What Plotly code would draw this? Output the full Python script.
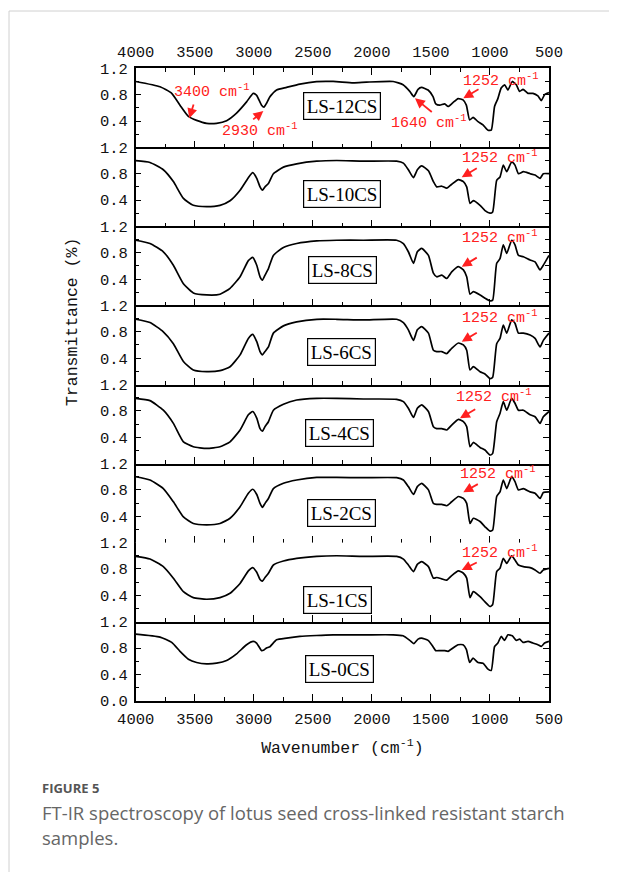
import plotly.graph_objects as go

# page is 617x872; the html body adds an 8px margin, so the figure is 609x864
OFF = 8
W, H = 617 - OFF, 872 - OFF

# ---------------- data ----------------
WN_A = [4000, 3794, 3695, 3625, 3554, 3484, 3399, 3315, 3230, 3146,
        3061, 3005, 2976, 2934, 2914, 2892, 2863, 2807, 2722, 2610,
        2469, 2328, 2158, 2046, 1820, 1736, 1679, 1645, 1609, 1580,
        1524, 1482, 1459, 1425, 1383, 1355, 1313, 1270, 1228, 1200,
        1172, 1143, 1101, 1059, 1017, 989, 961, 933, 905, 876,
        848, 811, 777, 749, 720, 678, 636, 594, 565, 537, 500]

WN_B = [4000, 3879, 3766, 3681, 3596, 3512, 3399, 3286, 3201, 3116,
        3046, 3009, 2975, 2947, 2927, 2905, 2876, 2834, 2749, 2637,
        2467, 2298, 2072, 1790, 1733, 1691, 1648, 1615, 1578, 1521,
        1479, 1451, 1408, 1366, 1324, 1267, 1225, 1197, 1169, 1141,
        1084, 1042, 1000, 977, 943, 915, 887, 858, 816, 788,
        759, 717, 660, 618, 576, 548, 500]

LS_12CS = [1.0, .92, .82, .64, .47, .41, .365, .365, .405, .52,
           .69, .82, .79, .64, .61, .67, .77, .87, .91, .96,
           .997, 1.0, .98, .99, 1.0, .95, .85, .77, .88, .91,
           .87, .77, .66, .64, .66, .62, .68, .74, .72, .64,
           .415, .455, .39, .34, .26, .26, .62, .74, .90, .95,
           .87, 1.0, .95, .85, .88, .82, .82, .78, .71, .80, .83]

LS_10CS = [.997, .97, .86, .68, .425, .32, .30, .32, .39, .55,
           .74, .815, .73, .60, .55, .60, .65, .80, .90, .95,
           .99, 1.0, .99, .99, .96, .86, .74, .86, .92, .845,
           .68, .60, .61, .58, .64, .71, .68, .60, .35, .39,
           .32, .24, .20, .22, .70, .75, .93, .83, .98, .93,
           .80, .83, .80, .78, .73, .80, .80]

LS_8CS = [.99, .94, .815, .61, .33, .19, .16, .17, .26, .435,
          .68, .73, .61, .435, .385, .46, .56, .76, .88, .94,
          .98, .99, .99, .99, .94, .815, .64, .815, .865, .76,
          .49, .435, .46, .41, .51, .59, .54, .435, .17, .21,
          .16, .11, .07, .08, .64, .71, .92, .79, .99, .92,
          .76, .74, .69, .66, .54, .61, .76]

LS_6CS = [.99, .94, .80, .62, .35, .22, .195, .21, .27, .45,
          .70, .76, .65, .50, .45, .50, .57, .78, .89, .95,
          .99, .99, .98, .99, .94, .83, .67, .83, .88, .78,
          .52, .50, .50, .47, .55, .63, .60, .52, .22, .27,
          .195, .16, .09, .11, .62, .70, .90, .78, .98, .93,
          .78, .78, .75, .70, .57, .67, .78]

LS_4CS = [.99, .955, .81, .61, .33, .255, .23, .255, .33, .51,
          .74, .79, .69, .53, .49, .56, .635, .81, .90, .965,
          .99, .99, .98, .975, .94, .84, .70, .84, .89, .79,
          .56, .53, .53, .51, .585, .67, .635, .56, .255, .32,
          .245, .205, .13, .155, .635, .76, .94, .81, .99, .915,
          .81, .81, .74, .71, .61, .71, .79]

LS_2CS = [1.0, .95, .82, .62, .39, .29, .27, .29, .37, .545,
          .75, .81, .73, .595, .535, .595, .67, .82, .90, .95,
          .99, .99, .985, .985, .95, .85, .73, .85, .90, .80,
          .595, .58, .58, .56, .62, .70, .67, .595, .29, .37,
          .32, .24, .175, .19, .70, .77, .95, .82, 1.0, .925,
          .80, .82, .77, .75, .67, .76, .77]

LS_1CS = [.99, .95, .835, .66, .455, .365, .34, .365, .43, .58,
          .77, .82, .75, .64, .615, .67, .735, .86, .92, .96,
          .99, 1.0, .99, .99, .95, .86, .76, .87, .91, .835,
          .66, .67, .65, .63, .70, .77, .735, .66, .365, .455,
          .38, .30, .23, .26, .76, .81, .96, .885, 1.0, .935,
          .86, .835, .82, .785, .735, .785, .81]

LS_0CS = [1.01, .965, .885, .75, .63, .58, .56, .57, .61, .71,
          .85, .90, .875, .76, .77, .80, .82, .925, .95, .975,
          .99, 1.0, 1.0, 1.0, 1.0, .985, .915, .865, .935, .95,
          .915, .82, .76, .76, .76, .75, .80, .85, .85, .78,
          .58, .645, .58, .57, .48, .46, .82, .875, .975, .915,
          1.0, .985, .915, .935, .885, .90, .875, .85, .825, .875, .90]

SAMPLES = ["LS-12CS", "LS-10CS", "LS-8CS", "LS-6CS", "LS-4CS", "LS-2CS", "LS-1CS", "LS-0CS"]
SERIES = [(WN_A, LS_12CS), (WN_B, LS_10CS), (WN_B, LS_8CS), (WN_B, LS_6CS),
          (WN_B, LS_4CS), (WN_B, LS_2CS), (WN_B, LS_1CS), (WN_A, LS_0CS)]

X_TICKS = [4000, 3500, 3000, 2500, 2000, 1500, 1000, 500]
Y_TICKS = [0.0, 0.4, 0.8, 1.2]

# ---------------- layout geometry (page pixels) ----------------
X0, X1 = 135.7, 549.0
TOP, PH = 68.3, 79.05

def px(x):
    return (x - OFF) / W

def py(y):
    return 1 - (y - OFF) / H

MONO = "Liberation Mono"
SERIF = "Liberation Serif"
TXT = "#111111"
TICKF = dict(family=MONO, size=15.5, color=TXT)

fig = go.Figure()
layout = dict(width=W, height=H, margin=dict(l=0, r=0, t=0, b=0, autoexpand=False),
              paper_bgcolor="white", plot_bgcolor="white", showlegend=False,
              autosize=False, template="none")

def ax_name(k, kind):
    return kind + ("axis" if k == 1 else "axis%d" % k)

def ref(k, kind):
    return kind if k == 1 else "%s%d" % (kind, k)

for i, (wn, vals) in enumerate(SERIES):
    k = i + 1
    fig.add_trace(go.Scatter(x=wn, y=vals, mode="lines",
                             line=dict(color="black", width=1.7, shape="spline", smoothing=0.5),
                             xaxis=ref(k, "x"), yaxis=ref(k, "y"), hoverinfo="skip"))
    top = TOP + PH * i
    bot = top + PH
    last = (k == 8)
    layout[ax_name(k, "x")] = dict(
        domain=[px(X0), px(X1)], range=[4000, 500], anchor=ref(k, "y"), automargin=False,
        showline=True, linecolor="black", linewidth=1.5, mirror=False,
        ticks="inside", ticklen=7, tickwidth=1.3, tickcolor="black",
        tickvals=X_TICKS, showticklabels=last, showgrid=False, zeroline=False,
        minor=dict(ticks="inside", ticklen=4, tickwidth=1.3, tickcolor="black", dtick=250, tick0=500, showgrid=False),
        tickfont=TICKF, ticklabelstandoff=3,
    )
    yt = Y_TICKS if last else Y_TICKS[1:]
    layout[ax_name(k, "y")] = dict(
        domain=[py(bot), py(top)], range=[0, 1.2], anchor=ref(k, "x"), automargin=False,
        showline=True, linecolor="black", linewidth=1.5, mirror="ticks",
        ticks="inside", ticklen=6, tickwidth=1.3, tickcolor="black",
        tickvals=yt, tickformat=".1f", showgrid=False, zeroline=False,
        minor=dict(ticks="inside", ticklen=4, tickwidth=1.3, tickcolor="black", dtick=0.2, tick0=0, showgrid=False),
        tickfont=TICKF, ticklabelstandoff=3,
    )
    if k == 8:
        layout[ax_name(k, "x")]["title"] = dict(
            text="Wavenumber (cm<sup>-1</sup>)", font=dict(family=MONO, size=16.5, color=TXT), standoff=13)

# top axis with labels for the first panel
fig.add_trace(go.Scatter(x=WN_A, y=LS_12CS, mode="lines", line=dict(width=0, color="rgba(0,0,0,0)"),
                         xaxis="x9", yaxis="y", hoverinfo="skip"))
layout["xaxis9"] = dict(
    domain=[px(X0), px(X1)], range=[4000, 500], overlaying="x", anchor="y", side="top", automargin=False,
    ticks="inside", ticklen=7, tickwidth=1.3, tickcolor="black", tickvals=X_TICKS,
    minor=dict(ticks="inside", ticklen=4, tickwidth=1.3, tickcolor="black", dtick=250, tick0=500),
    showgrid=False, zeroline=False, showline=True, linecolor="black", linewidth=1.5,
    tickfont=TICKF, ticklabelstandoff=3)

fig.update_layout(**layout)

ann = []
# sample labels (boxed)
LABEL_POS = [(2253, 0.627), (2256, 0.49), (2247, 0.54), (2256, 0.49),
             (2278, 0.46), (2261, 0.45), (2287, 0.33), (2278, 0.48)]
for i, name in enumerate(SAMPLES):
    k = i + 1
    x, y = LABEL_POS[i]
    ann.append(dict(x=x, y=y, xref=ref(k, "x"), yref=ref(k, "y"), text=name, showarrow=False,
                    font=dict(family=SERIF, size=19, color="black"),
                    bordercolor="black", borderwidth=1.2, borderpad=2.5, bgcolor="white"))

RED = "#ff2020"
def red_label(k, x, y, txt):
    ann.append(dict(x=x, y=y, xref=ref(k, "x"), yref=ref(k, "y"), text=txt, showarrow=False,
                    font=dict(family=MONO, size=15, color=RED)))

def red_arrow(k, hx, hy, tx, ty):
    ann.append(dict(x=hx, y=hy, ax=tx, ay=ty, xref=ref(k, "x"), yref=ref(k, "y"),
                    axref=ref(k, "x"), ayref=ref(k, "y"), text="", showarrow=True,
                    arrowhead=2, arrowsize=1.1, arrowwidth=1.8, arrowcolor=RED, standoff=0))

# panel 1 annotations
red_label(1, 3358, 0.855, "3400 cm<sup>-1</sup>")
red_arrow(1, 3546, 0.441, 3506, 0.673)
red_label(1, 2944, 0.263, "2930 cm<sup>-1</sup>")
red_arrow(1, 2919, 0.552, 3018, 0.405)
red_label(1, 1516, 0.389, "1640 cm<sup>-1</sup>")
red_arrow(1, 1635, 0.745, 1480, 0.517)
red_label(1, 908, 1.022, "1252 cm<sup>-1</sup>")
red_arrow(1, 1226, 0.745, 1084, 0.896)

# 1252 labels on panels 2-7
P1252 = {2: (919, 1.058, 1239, 0.745, 1099, 0.897),
         3: (919, 1.044, 1239, 0.588, 1099, 0.74),
         4: (919, 1.02, 1239, 0.65, 1099, 0.80),
         5: (966, 1.025, 1254, 0.687, 1112, 0.839),
         6: (928, 1.052, 1226, 0.764, 1090, 0.90),
         7: (915, 1.053, 1239, 0.784, 1099, 0.91)}
for k, (lx, ly, hx, hy, tx, ty) in P1252.items():
    red_label(k, lx, ly, "1252 cm<sup>-1</sup>")
    red_arrow(k, hx, hy, tx, ty)

# y-axis title
ann.append(dict(x=px(72), y=py(322), xref="paper", yref="paper", xanchor="center", yanchor="middle",
                text="Transmittance (%)", textangle=-90, showarrow=False,
                font=dict(family=MONO, size=16.5, color=TXT)))

# caption
CAP = "#666666"
ann.append(dict(x=px(40), y=py(788), xref="paper", yref="paper", xanchor="left", yanchor="middle",
                text="<b>FIGURE 5</b>", showarrow=False, font=dict(family="Open Sans", size=13, color="#555")))
ann.append(dict(x=px(40), y=py(812), xref="paper", yref="paper", xanchor="left", yanchor="middle",
                text="FT-IR spectroscopy of lotus seed cross-linked resistant starch", showarrow=False,
                font=dict(family="Open Sans", size=18.5, color=CAP)))
ann.append(dict(x=px(40), y=py(837), xref="paper", yref="paper", xanchor="left", yanchor="middle",
                text="samples.", showarrow=False, font=dict(family="Open Sans", size=18.5, color=CAP)))

fig.update_layout(annotations=ann)

# page frame lines
fig.add_shape(type="line", xref="paper", yref="paper", x0=px(9), x1=px(9), y0=0, y1=py(11),
              line=dict(color="#d0d0d0", width=1))
fig.add_shape(type="line", xref="paper", yref="paper", x0=px(9), x1=1, y0=py(11), y1=py(11),
              line=dict(color="#d0d0d0", width=1))

fig.write_html("out.html")
